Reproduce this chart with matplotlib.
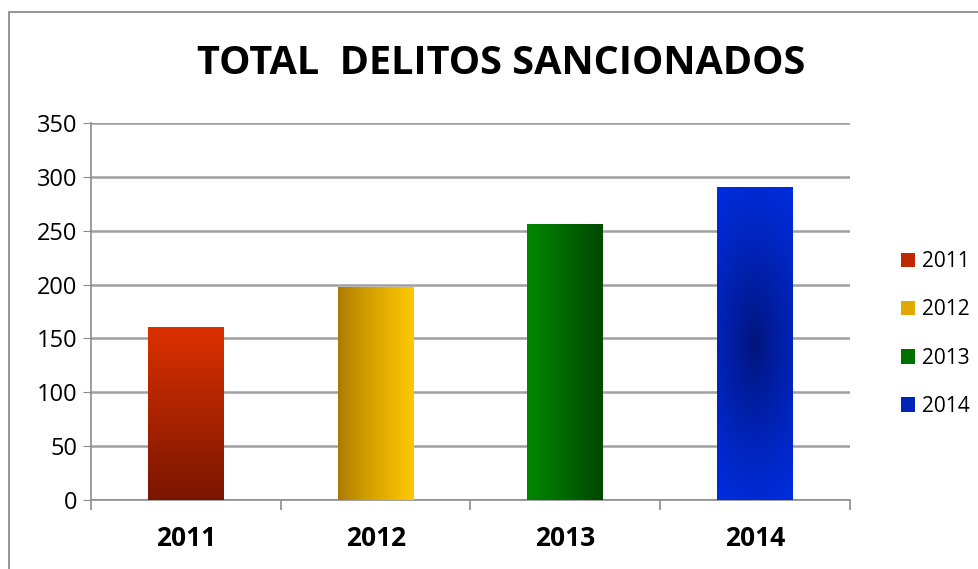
import numpy as np
import matplotlib.pyplot as plt
from matplotlib.patches import Patch, Rectangle

years = ["2011", "2012", "2013", "2014"]
totals = [160, 197, 256, 290]

plt.rcParams["font.family"] = ["Open Sans", "DejaVu Sans"]

fig = plt.figure(figsize=(9.79, 5.69), dpi=100)
fig.patches.append(Rectangle((9 / 979, -0.1), 1.1, 1 - 12 / 569 + 0.1,
                             transform=fig.transFigure, fill=False,
                             edgecolor="#8c8c8c", linewidth=1.3))
ax = fig.add_axes([91 / 979, 1 - 500 / 569, 759 / 979, 377 / 569])

x = np.arange(len(years))
width = 0.4
bars = ax.bar(x, totals, width=width, color="none", zorder=3)


def lerp(c1, c2, t):
    c1 = np.array(c1) / 255.0
    c2 = np.array(c2) / 255.0
    return c1[None, None, :] * (1 - t[..., None]) + c2[None, None, :] * t[..., None]


n = 200
yy, xx = np.mgrid[0:n, 0:n] / (n - 1)  # yy: 0 top -> 1 bottom
grads = [
    lerp((220, 48, 0), (122, 22, 0), yy),            # vertical red
    lerp((170, 120, 0), (255, 200, 0), xx ** 0.8),   # horizontal gold
    lerp((0, 136, 0), (0, 72, 0), xx),               # horizontal green
]
# radial blue, dark centre around half height
cy = 1 - 145 / 290
d = np.sqrt(((xx - 0.5) / 0.9) ** 2 + ((yy - cy) / 0.55) ** 2)
grads.append(lerp((0, 20, 120), (0, 44, 220), np.clip(d, 0, 1) ** 0.8))

for b, g in zip(bars, grads):
    x0 = b.get_x()
    ax.imshow(g, extent=[x0, x0 + b.get_width(), 0, b.get_height()],
              aspect="auto", zorder=3, interpolation="bilinear")

ax.set_xlim(-0.5, len(years) - 0.5)
ax.set_ylim(0, 350)
ax.set_yticks(range(0, 351, 50))
ax.set_xticks(x)
ax.set_xticklabels(years, fontsize=19, fontweight="bold")
ax.set_xticks(np.arange(-0.5, len(years)), minor=True)
ax.tick_params(axis="x", which="major", length=0, pad=18)
ax.tick_params(axis="x", which="minor", length=7, color="#8c8c8c", width=1.2)
ax.tick_params(axis="y", labelsize=17, length=6, color="#8c8c8c", pad=4)
ax.grid(axis="y", color="#a0a0a0", linewidth=1.8, zorder=0)
ax.set_axisbelow(True)
for s in ["top", "right"]:
    ax.spines[s].set_visible(False)
for s in ["left", "bottom"]:
    ax.spines[s].set_color("#8c8c8c")
    ax.spines[s].set_linewidth(1.2)

fig.text(0.512, 1 - 64 / 569, "TOTAL  DELITOS SANCIONADOS", ha="center",
         va="center", fontsize=28.5, fontweight="bold")

handles = [Patch(facecolor=c) for c in ["#c02800", "#e0a800", "#007000", "#0024b8"]]
fig.legend(handles, years, loc="center left", bbox_to_anchor=(882 / 979, 1 - 334 / 569),
           frameon=False, fontsize=15, handlelength=0.7, handleheight=0.7,
           handletextpad=0.3, labelspacing=1.3)

plt.savefig("out.png", dpi=100)
